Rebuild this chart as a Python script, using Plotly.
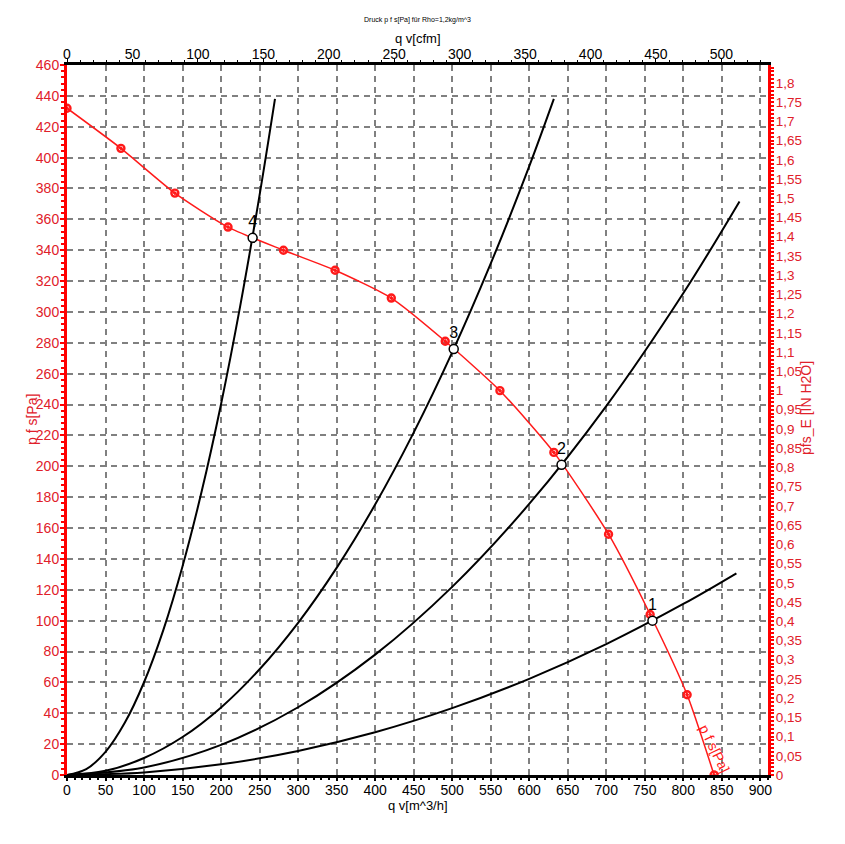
import plotly.graph_objects as go

# Fan curve p_fs [Pa] vs q_v [m^3/h]
fan_q = [0, 70, 140, 209, 281, 348, 421, 491, 562, 632, 703, 757, 805, 840]
fan_p = [432, 406, 377, 355, 340, 327, 309, 281, 249, 209, 156, 104, 52, 0]

# System curves (black)
sys1_q = [0, 100, 200, 300, 400, 500, 600, 700, 800, 869]
sys1_p = [0, 1.7, 6.9, 15.6, 27.7, 43.3, 62.3, 84.8, 110.8, 130.7]
sys2_q = [0, 100, 200, 300, 400, 500, 600, 700, 800, 873]
sys2_p = [0, 4.9, 19.5, 43.9, 78.0, 121.9, 175.6, 239.0, 312.1, 371.6]
sys3_q = [0, 50, 100, 150, 200, 250, 300, 350, 400, 450, 500, 550, 600, 632]
sys3_p = [0, 2.7, 11.0, 24.6, 43.8, 68.5, 98.6, 134.2, 175.2, 221.8, 273.8, 331.3, 394.3, 438]
sys4_q = [0, 25, 50, 75, 100, 125, 150, 175, 200, 225, 250, 270]
sys4_p = [0, 3.8, 15.0, 33.8, 60.1, 93.9, 135.3, 184.1, 240.4, 304.3, 375.7, 438]

# Operating points
op_q = [760, 642, 502, 241]
op_p = [100, 201, 276, 348]
op_labels = ["1", "2", "3", "4"]

Q_MAX = 910
P_MAX = 460
CFM_PER_M3H = 0.588578
PA_PER_INH2O = 249.089

RED_TXT = "#e0202a"
RED_LINE = "#ff1a1a"
FONT = "Liberation Sans, Arial, sans-serif"

W, H = 845, 844
OFF = 8  # page body margin
# plot area in page pixels
PX0, PX1, PY0, PY1 = 67, 768, 65, 775
L, T = PX0 - OFF, PY0 - OFF
R, B = W - (PX1 - OFF), H - (PY1 - OFF)

fig = go.Figure()
for q, p in [(sys1_q, sys1_p), (sys2_q, sys2_p), (sys3_q, sys3_p), (sys4_q, sys4_p)]:
    fig.add_trace(go.Scatter(x=q, y=p, mode="lines", line=dict(color="black", width=2, shape="spline"),
                             showlegend=False, hoverinfo="skip"))

fig.add_trace(go.Scatter(x=fan_q, y=fan_p, mode="lines+markers",
                         line=dict(color=RED_LINE, width=1.5, shape="spline", smoothing=0.6),
                         marker=dict(symbol="circle-open-dot", size=7, color=RED_LINE, line=dict(width=2.4)),
                         showlegend=False))

fig.add_trace(go.Scatter(x=op_q, y=op_p, mode="markers+text", text=op_labels, textposition="top center",
                         textfont=dict(size=16, color="black", family=FONT),
                         marker=dict(symbol="circle", size=9, color="white", line=dict(color="black", width=1.5)),
                         showlegend=False, cliponaxis=False))

# dummy trace for secondary axes
fig.add_trace(go.Scatter(x=[0], y=[0], xaxis="x2", yaxis="y2", mode="markers",
                         marker=dict(opacity=0), showlegend=False, hoverinfo="skip"))

grid = dict(showgrid=True, gridcolor="#808080", gridwidth=1.5, griddash="6px,5px")

fig.update_layout(
    width=W, height=H,
    margin=dict(l=L, r=R, t=T, b=B, autoexpand=False),
    paper_bgcolor="white", plot_bgcolor="white",
    separators=", ",
    font=dict(family=FONT, size=14),
    xaxis=dict(range=[0, Q_MAX], dtick=50, tick0=0, ticks="outside", ticklen=3, tickwidth=1.5,
               tickcolor="black", showline=True, linecolor="black", linewidth=3, zeroline=False,
               tickfont=dict(size=14, color="black"), ticklabelstandoff=-3,
               minor=dict(dtick=10, ticks="outside", ticklen=2, tickcolor="black", showgrid=False),
               **grid),
    xaxis2=dict(range=[0, Q_MAX * CFM_PER_M3H], dtick=50, tick0=0, overlaying="x", side="top",
                ticks="outside", ticklen=3, tickcolor="black", showline=True, linecolor="black",
                linewidth=3, showgrid=False, zeroline=False, tickfont=dict(size=14, color="black"),
                ticklabelstandoff=-6,
                minor=dict(dtick=10, ticks="outside", ticklen=2, tickcolor="black", showgrid=False)),
    yaxis=dict(range=[0, P_MAX], dtick=20, tick0=0, ticks="outside", ticklen=4, tickwidth=1.5,
               tickcolor="red", showline=True, linecolor="red", linewidth=3, zeroline=False,
               tickfont=dict(size=14, color=RED_TXT), ticklabelstandoff=-2,
               minor=dict(dtick=4, ticks="outside", ticklen=3, tickcolor="red", showgrid=False),
               **grid),
    yaxis2=dict(range=[0, P_MAX / PA_PER_INH2O], dtick=0.05, tick0=0, overlaying="y", side="right",
                ticks="outside", ticklen=3, tickwidth=1.5, tickcolor="red", showline=True, linecolor="red",
                linewidth=3, showgrid=False, zeroline=False, tickfont=dict(size=13.5, color=RED_TXT),
                ticklabelstandoff=-1,
                minor=dict(dtick=0.01, ticks="outside", ticklen=3, tickcolor="red", showgrid=False)),
)

pw, ph = PX1 - PX0, PY1 - PY0
def add_px(text, px, py, size, color, angle=0):
    fig.add_annotation(text=text, x=(px - PX0) / pw, y=(PY1 - py) / ph, xref="paper", yref="paper",
                       xanchor="center", yanchor="middle", showarrow=False, textangle=angle,
                       font=dict(size=size, color=color, family=FONT))

add_px("Druck p f s[Pa] für Rho=1,2kg/m^3", 418, 20, 7, "black")
add_px("q v[cfm]", 418, 38, 13, "black")
add_px("q v[m^3/h]", 418, 805, 13, "black")
add_px("p f s[Pa]", 32, 420, 14, RED_TXT, -90)
add_px("pfs_E [IN H2O]", 806, 408, 14, RED_TXT, -90)

fig.add_annotation(text="p f s[Pa]", x=841, y=17, xref="x", yref="y", textangle=64, showarrow=False,
                   font=dict(size=14, color=RED_LINE, family=FONT))

fig.write_html("out.html")
